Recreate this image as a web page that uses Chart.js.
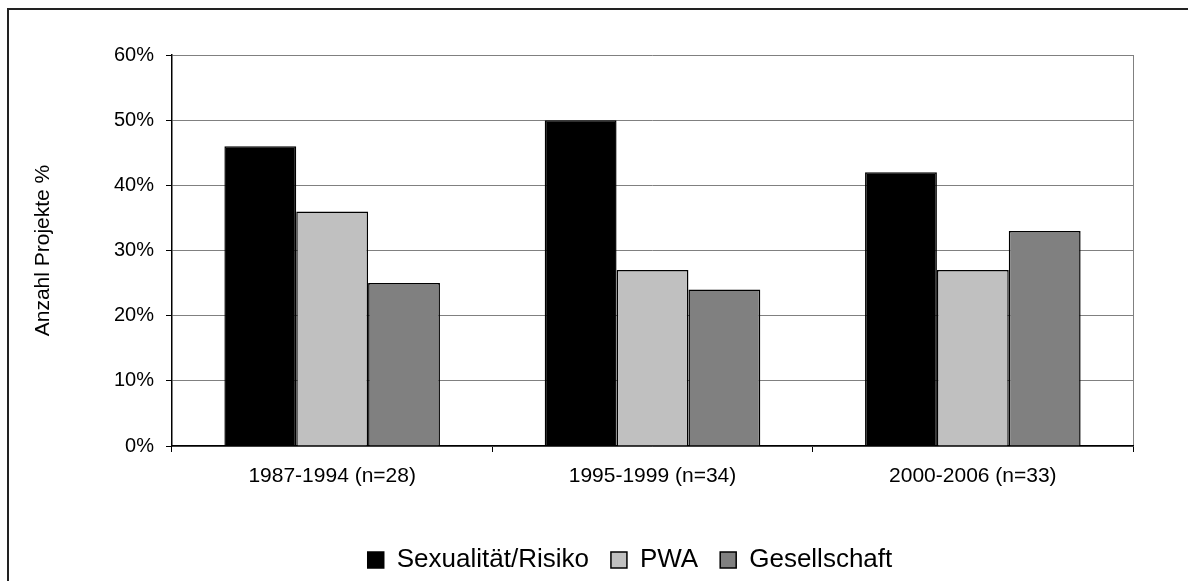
<!DOCTYPE html>
<html>
<head>
<meta charset="utf-8">
<script src="https://cdn.jsdelivr.net/npm/chart.js@4.4.1/dist/chart.umd.min.js"></script>
<style>
  html, body { margin: 0; padding: 0; background: #fff; overflow: hidden; width: 1188px; height: 581px; }
  #frame { position: absolute; left: 7px; top: 8px; width: 1400px; height: 800px; border: 2px solid #222; box-sizing: border-box; }
  #c { position: absolute; left: 0; top: 0; }
</style>
</head>
<body>
<div id="frame"></div>
<canvas id="c" width="1240" height="583" style="width:1240px;height:583px;"></canvas>
<script>
const categories = ['1987-1994 (n=28)', '1995-1999 (n=34)', '2000-2006 (n=33)'];
const sexualitaetRisiko = [46, 50, 42];
const pwa = [36, 27, 27];
const gesellschaft = [25, 24, 33];
const seriesNames = ['Sexualität/Risiko', 'PWA', 'Gesellschaft'];
const yTicks = [0, 10, 20, 30, 40, 50, 60];

const FONT = "'Liberation Sans', Arial, sans-serif";

new Chart(document.getElementById('c'), {
  type: 'bar',
  data: {
    labels: categories,
    datasets: [
      { label: seriesNames[0], data: sexualitaetRisiko, backgroundColor: '#000000', borderColor: '#000000', borderWidth: 1.5 },
      { label: seriesNames[1], data: pwa, backgroundColor: '#c0c0c0', borderColor: '#000000', borderWidth: 1.5 },
      { label: seriesNames[2], data: gesellschaft, backgroundColor: '#808080', borderColor: '#000000', borderWidth: 1.5 }
    ]
  },
  options: {
    responsive: false,
    animation: false,
    devicePixelRatio: 1,
    categoryPercentage: 0.673,
    barPercentage: 1.0,
    layout: { padding: { left: 20, right: 0, top: 55, bottom: 0 } },
    plugins: {
      tooltip: { enabled: false },
      legend: {
        position: 'bottom',
        labels: {
          color: '#000',
          font: { family: FONT, size: 26 },
          boxWidth: 16,
          boxHeight: 16,
          padding: 22
        }
      }
    },
    scales: {
      x: {
        grid: {
          offset: true,
          drawOnChartArea: true,
          color: (c) => c.type === 'scale' ? '#808080' : 'rgba(0,0,0,0)',
          tickColor: '#000',
          tickLength: 6,
          lineWidth: 1
        },
        border: { display: true, color: '#000', width: 1.5 },
        ticks: { color: '#000', font: { family: FONT, size: 21 }, padding: 12, maxRotation: 0 },
        afterFit: (s) => { s.height = 79; }
      },
      y: {
        min: 0,
        max: 60,
        afterBuildTicks: (s) => { s.ticks = yTicks.map(v => ({ value: v })); },
        ticks: {
          color: '#000',
          font: { family: FONT, size: 20 },
          padding: 12,
          callback: (v) => v + '%'
        },
        grid: { color: '#808080', tickColor: '#000', tickLength: 6, lineWidth: 1 },
        border: { display: true, color: '#000', width: 1.5 },
        title: {
          display: true,
          text: 'Anzahl Projekte %',
          color: '#000',
          font: { family: FONT, size: 21 },
          padding: { top: 11, bottom: 0 }
        },
        afterFit: (s) => { s.width = 152; }
      },
      yRight: {
        position: 'right',
        display: true,
        grid: { display: false, drawTicks: false },
        border: { display: false },
        ticks: { display: false },
        afterFit: (s) => { s.width = 107; }
      }
    }
  }
});
</script>
</body>
</html>
